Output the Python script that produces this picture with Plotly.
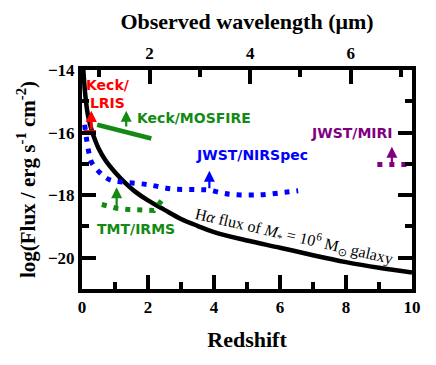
import plotly.graph_objects as go

# H-alpha flux of a M* = 1e6 Msun galaxy
curve_z = [0.03, 0.06, 0.1, 0.15, 0.2, 0.3, 0.4, 0.5, 0.7, 1.0, 1.3, 1.6, 2.0, 2.5, 3.0, 3.5, 4.0, 5.0,
           6.0, 7.0, 8.0, 9.0, 10.0]
curve_flux = [-13.8, -14.3, -14.8, -15.25, -15.55, -15.95, -16.25, -16.5, -16.87, -17.27, -17.6, -17.88,
              -18.17, -18.47, -18.76, -18.98, -19.18, -19.45, -19.68, -19.92, -20.14, -20.32, -20.47]

# JWST/NIRSpec sensitivity
nirspec_z = [0.08, 0.19, 0.29, 0.54, 0.84, 1.21, 1.97, 2.73, 3.48, 3.86, 4.23, 4.58, 5.37, 6.15, 6.55]
nirspec_flux = [-15.75, -16.54, -16.95, -17.28, -17.51, -17.58, -17.66, -17.8, -17.82, -17.84, -17.93,
                -17.98, -17.99, -17.91, -17.86]

# TMT/IRMS sensitivity
irms_z = [0.6, 1.05, 1.4, 1.81, 2.18, 2.45]
irms_flux = [-18.3, -18.42, -18.46, -18.49, -18.49, -18.12]

# Keck/MOSFIRE sensitivity
mosfire_z = [0.46, 2.1]
mosfire_flux = [-15.75, -16.19]

# Keck/LRIS sensitivity
lris_z = [0.05, 0.42]
lris_flux = [-16.0, -16.0]

# JWST/MIRI sensitivity
miri_z = [8.95, 9.85]
miri_flux = [-17.02, -17.02]

# upward arrows: redshift, base, tip
arrow_z = [0.28, 1.34, 3.86, 1.05, 9.39]
arrow_base = [-15.95, -15.85, -17.83, -18.42, -17.02]
arrow_tip = [-15.3, -15.3, -17.22, -17.75, -16.45]
arrow_color = ['#ff0000', '#138a13', '#0000ff', '#138a13', '#800080']

# instrument labels
label_text = ['Keck/<br>LRIS', 'Keck/MOSFIRE', 'JWST/NIRSpec', 'TMT/IRMS', 'JWST/MIRI']
label_z = [0.8, 3.38, 5.14, 1.65, 8.17]
label_flux = [-14.76, -15.52, -16.73, -19.08, -16.0]
label_color = ['#ff0000', '#138a13', '#0000ff', '#138a13', '#800080']

halpha_rest = 0.6563  # micron
z_range = [0, 10]
flux_range = [-21, -14]

serif = 'Liberation Serif'
sans = 'DejaVu Sans'

fig = go.Figure()

fig.add_trace(go.Scatter(x=curve_z, y=curve_flux, mode='lines', line=dict(color='black', width=4.5, shape='spline'),
                         showlegend=False))
fig.add_trace(go.Scatter(x=nirspec_z, y=nirspec_flux, mode='lines',
                         line=dict(color='#0000ff', width=5, dash='5px,7px', shape='spline'), showlegend=False))
fig.add_trace(go.Scatter(x=irms_z, y=irms_flux, mode='lines',
                         line=dict(color='#138a13', width=5, dash='5px,7px'), showlegend=False))
fig.add_trace(go.Scatter(x=mosfire_z, y=mosfire_flux, mode='lines',
                         line=dict(color='#138a13', width=4.5), showlegend=False))
fig.add_trace(go.Scatter(x=lris_z, y=lris_flux, mode='lines',
                         line=dict(color='#ff0000', width=5), showlegend=False))
fig.add_trace(go.Scatter(x=miri_z, y=miri_flux, mode='lines',
                         line=dict(color='#800080', width=5, dash='5px,7px'), showlegend=False))

# invisible trace to activate the top wavelength axis
fig.add_trace(go.Scatter(x=[halpha_rest * (1 + z_range[0])], y=[flux_range[0]], xaxis='x2', yaxis='y2',
                         mode='markers', marker=dict(opacity=0), showlegend=False, hoverinfo='skip'))

for z, y0, y1, c in zip(arrow_z, arrow_base, arrow_tip, arrow_color):
    red = c == '#ff0000'
    fig.add_annotation(x=z, y=y1, ax=z, ay=y0, xref='x', yref='y', axref='x', ayref='y',
                       showarrow=True, arrowhead=2, arrowsize=0.75 if red else 1,
                       arrowwidth=3 if red else 2.2, arrowcolor=c, text='')

for t, z, y, c in zip(label_text, label_z, label_flux, label_color):
    fig.add_annotation(x=z, y=y, text=t, showarrow=False, align='center',
                       font=dict(family=sans, size=14, color=c, weight='bold'))

fig.add_annotation(x=6.45, y=-19.3, textangle=13, showarrow=False,
                   text='H<i>α</i> flux of <i>M</i><sub>*</sub> = 10<sup>6</sup> M<sub>⊙</sub> galaxy',
                   font=dict(family=serif, size=16, color='black'))

tickfont = dict(family=serif, size=17, color='black', weight='bold')
titlefont = dict(family=serif, size=22, color='black', weight='bold')
minor = dict(dtick=1, ticks='inside', ticklen=7, tickwidth=3.5, tickcolor='black')

# the page body adds an 8px offset, so margins are shifted to compensate
fig.update_layout(
    width=436, height=365,
    margin=dict(l=74, r=32, t=62, b=84),
    paper_bgcolor='white', plot_bgcolor='white',
    xaxis=dict(range=z_range, tick0=0, dtick=2, ticks='inside', ticklen=14, tickwidth=3.5, tickcolor='black',
               minor=minor, showline=True, linewidth=4, linecolor='black', showgrid=False, zeroline=False,
               automargin=False, tickfont=tickfont, title=dict(text='Redshift', font=titlefont, standoff=16)),
    xaxis2=dict(range=[halpha_rest * (1 + z_range[0]), halpha_rest * (1 + z_range[1])],
                overlaying='x', anchor='y2', side='top', tick0=0, dtick=2, ticks='inside', ticklen=14,
                tickwidth=3.5, tickcolor='black', minor=minor,
                showline=True, linewidth=4, linecolor='black', showgrid=False, zeroline=False,
                automargin=False, tickfont=tickfont,
                title=dict(text='Observed wavelength (μm)', font=titlefont, standoff=10)),
    yaxis=dict(range=flux_range, tick0=-14, dtick=2, ticks='inside', ticklen=14, tickwidth=3.5,
               tickcolor='black', minor=minor,
               showline=True, linewidth=4, linecolor='black', mirror='allticks', showgrid=False,
               zeroline=False, automargin=False, tickfont=tickfont,
               title=dict(text='log(Flux / erg s<sup>-1</sup> cm<sup>-2</sup>)',
                          font=dict(family=serif, size=21, color='black', weight='bold'), standoff=8)),
    yaxis2=dict(range=flux_range, overlaying='y', anchor='x2', visible=False, automargin=False),
)

fig.write_html('out.html')
